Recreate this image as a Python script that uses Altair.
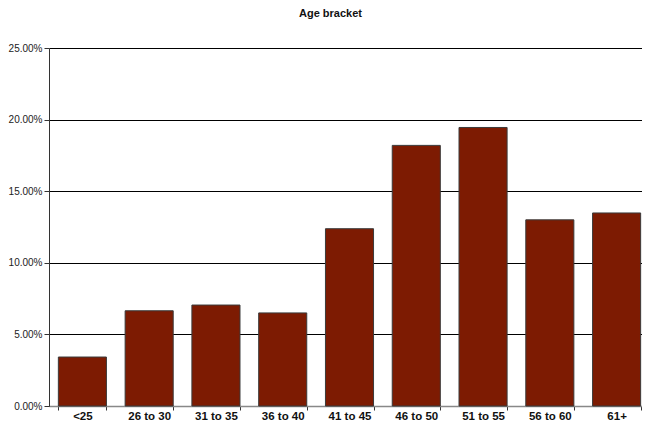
import altair as alt
import pandas as pd

categories = ["<25", "26 to 30", "31 to 35", "36 to 40", "41 to 45",
              "46 to 50", "51 to 55", "56 to 60", "61+"]
shares = [0.0342, 0.0665, 0.0705, 0.0650, 0.1238,
          0.1820, 0.1945, 0.1300, 0.1348]
y_ticks = [0.0, 0.05, 0.10, 0.15, 0.20, 0.25]

df = pd.DataFrame({"bracket": categories, "share": shares})

FONT = "Liberation Sans"

chart = alt.Chart(df).mark_bar(
    color="#7d1b02", stroke="#3a3a3a", strokeWidth=1
).encode(
    x=alt.X("bracket:N", sort=categories, title=None,
            scale=alt.Scale(paddingInner=0.28, paddingOuter=0.14),
            axis=alt.Axis(labelAngle=0, labelFont=FONT, labelFontSize=11.5,
                          labelFontWeight="bold", labelColor="#111",
                          labelPadding=0, tickBand="extent", tickSize=4,
                          tickColor="#333", domainColor="#888",
                          domainWidth=1.5)),
    y=alt.Y("share:Q", title=None,
            scale=alt.Scale(domain=[0, 0.25], nice=False),
            axis=alt.Axis(values=y_ticks, format=".2%", labelFont=FONT,
                          labelFontSize=10, labelColor="#222",
                          tickSize=5, tickColor="#333", labelPadding=2,
                          domainColor="#333", grid=True, gridColor="#000",
                          gridWidth=1)),
).properties(
    width=601, height=358,
    title=alt.TitleParams("Age bracket", font=FONT, fontSize=11,
                          fontWeight="bold", color="#111",
                          anchor="middle", frame="group", dx=-19, offset=24),
    padding={"left": 41, "top": 40, "right": -8, "bottom": 17},
    autosize=alt.AutoSizeParams(type="none"),
).configure_view(stroke=None)

chart.save("out.html", embed_options={"renderer": "svg", "actions": False})
